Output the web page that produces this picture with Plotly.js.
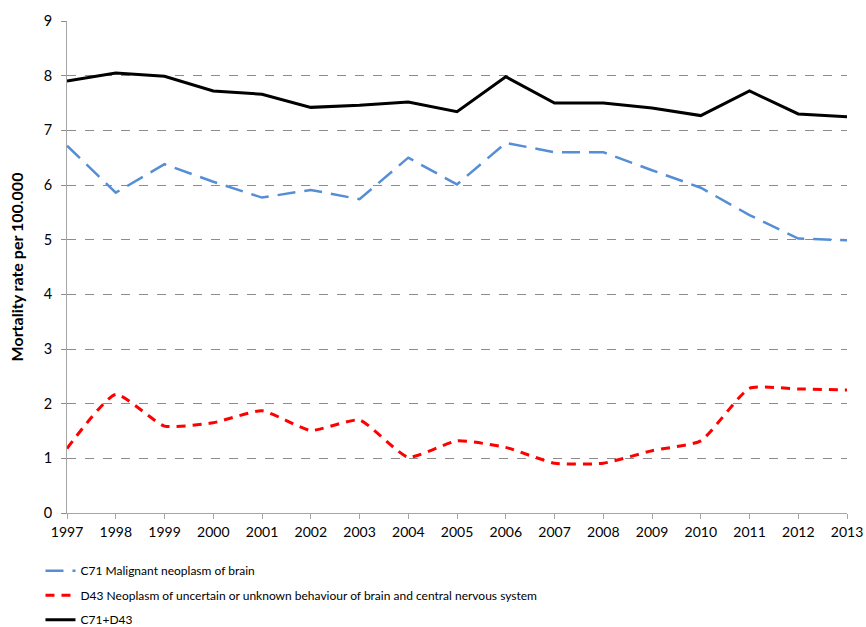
<!DOCTYPE html>
<html>
<head>
<meta charset="utf-8">
<script src="https://cdn.plot.ly/plotly-3.0.1.min.js"></script>
<style>html,body{margin:0;padding:0;background:#fff;}#chart{width:866px;height:627px;}</style>
</head>
<body>
<div id="chart"></div>
<script>
var years = [1997,1998,1999,2000,2001,2002,2003,2004,2005,2006,2007,2008,2009,2010,2011,2012,2013];
var c71 = [6.72,5.86,6.38,6.06,5.77,5.91,5.74,6.50,6.01,6.77,6.60,6.60,6.27,5.95,5.45,5.02,4.99];
var d43 = [1.18,2.17,1.59,1.65,1.87,1.51,1.70,1.02,1.32,1.20,0.91,0.91,1.14,1.32,2.28,2.27,2.25];
var total = [7.90,8.05,7.99,7.72,7.66,7.42,7.46,7.52,7.34,7.98,7.50,7.50,7.41,7.27,7.72,7.30,7.25];
var names = ["C71 Malignant neoplasm of brain",
  "D43 Neoplasm of uncertain or unknown behaviour of brain and central nervous system",
  "C71+D43"];
var yTitle = "Mortality rate per 100.000";

var traces = [
  {x: years, y: c71, name: names[0], type: 'scatter', mode: 'lines', legendgroup: 'a',
   line: {color: '#558ED5', width: 2.5, dash: '18px,9px'}},
  {x: years, y: d43, name: names[1], type: 'scatter', mode: 'lines', legendgroup: 'b',
   line: {color: '#FF0000', width: 3, dash: '9px,7px', shape: 'spline', smoothing: 0.5}},
  {x: years, y: total, name: names[2], type: 'scatter', mode: 'lines', legendgroup: 'c',
   line: {color: '#000000', width: 3}}
];

var layout = {
  width: 866, height: 627,
  margin: {l: 67, r: 19, t: 21, b: 114},
  paper_bgcolor: '#fff', plot_bgcolor: '#fff',
  font: {family: 'Lato, "Noto Sans", sans-serif', size: 13, color: '#000'},
  showlegend: true,
  legend: {orientation: 'v', xref: 'paper', yref: 'container', x: -0.034, xanchor: 'left', y: 0.113, yanchor: 'top',
    font: {size: 12}, tracegroupgap: 5.5, itemwidth: 30, bgcolor: 'rgba(0,0,0,0)'},
  xaxis: {range: [1997, 2013], tickmode: 'array', tickvals: years, ticktext: years.map(String),
    showgrid: false, zeroline: false, showline: true, linecolor: '#A6A6A6', linewidth: 1,
    ticks: 'outside', ticklen: 5, tickcolor: '#A6A6A6', tickfont: {size: 14}, ticklabelstandoff: 1},
  yaxis: {range: [0, 9], dtick: 1, tick0: 0, showgrid: true, gridcolor: '#8C8C8C', griddash: 'dash', gridwidth: 1,
    zeroline: false, showline: true, linecolor: '#A6A6A6', linewidth: 1,
    ticks: 'outside', ticklen: 5, tickcolor: '#8C8C8C', tickfont: {size: 14.5}, ticklabelstandoff: 6,
    title: {text: yTitle, font: {size: 16, weight: 'bold'}, standoff: 16}}
};

Plotly.newPlot('chart', traces, layout, {displayModeBar: false, staticPlot: true});
</script>
</body>
</html>
